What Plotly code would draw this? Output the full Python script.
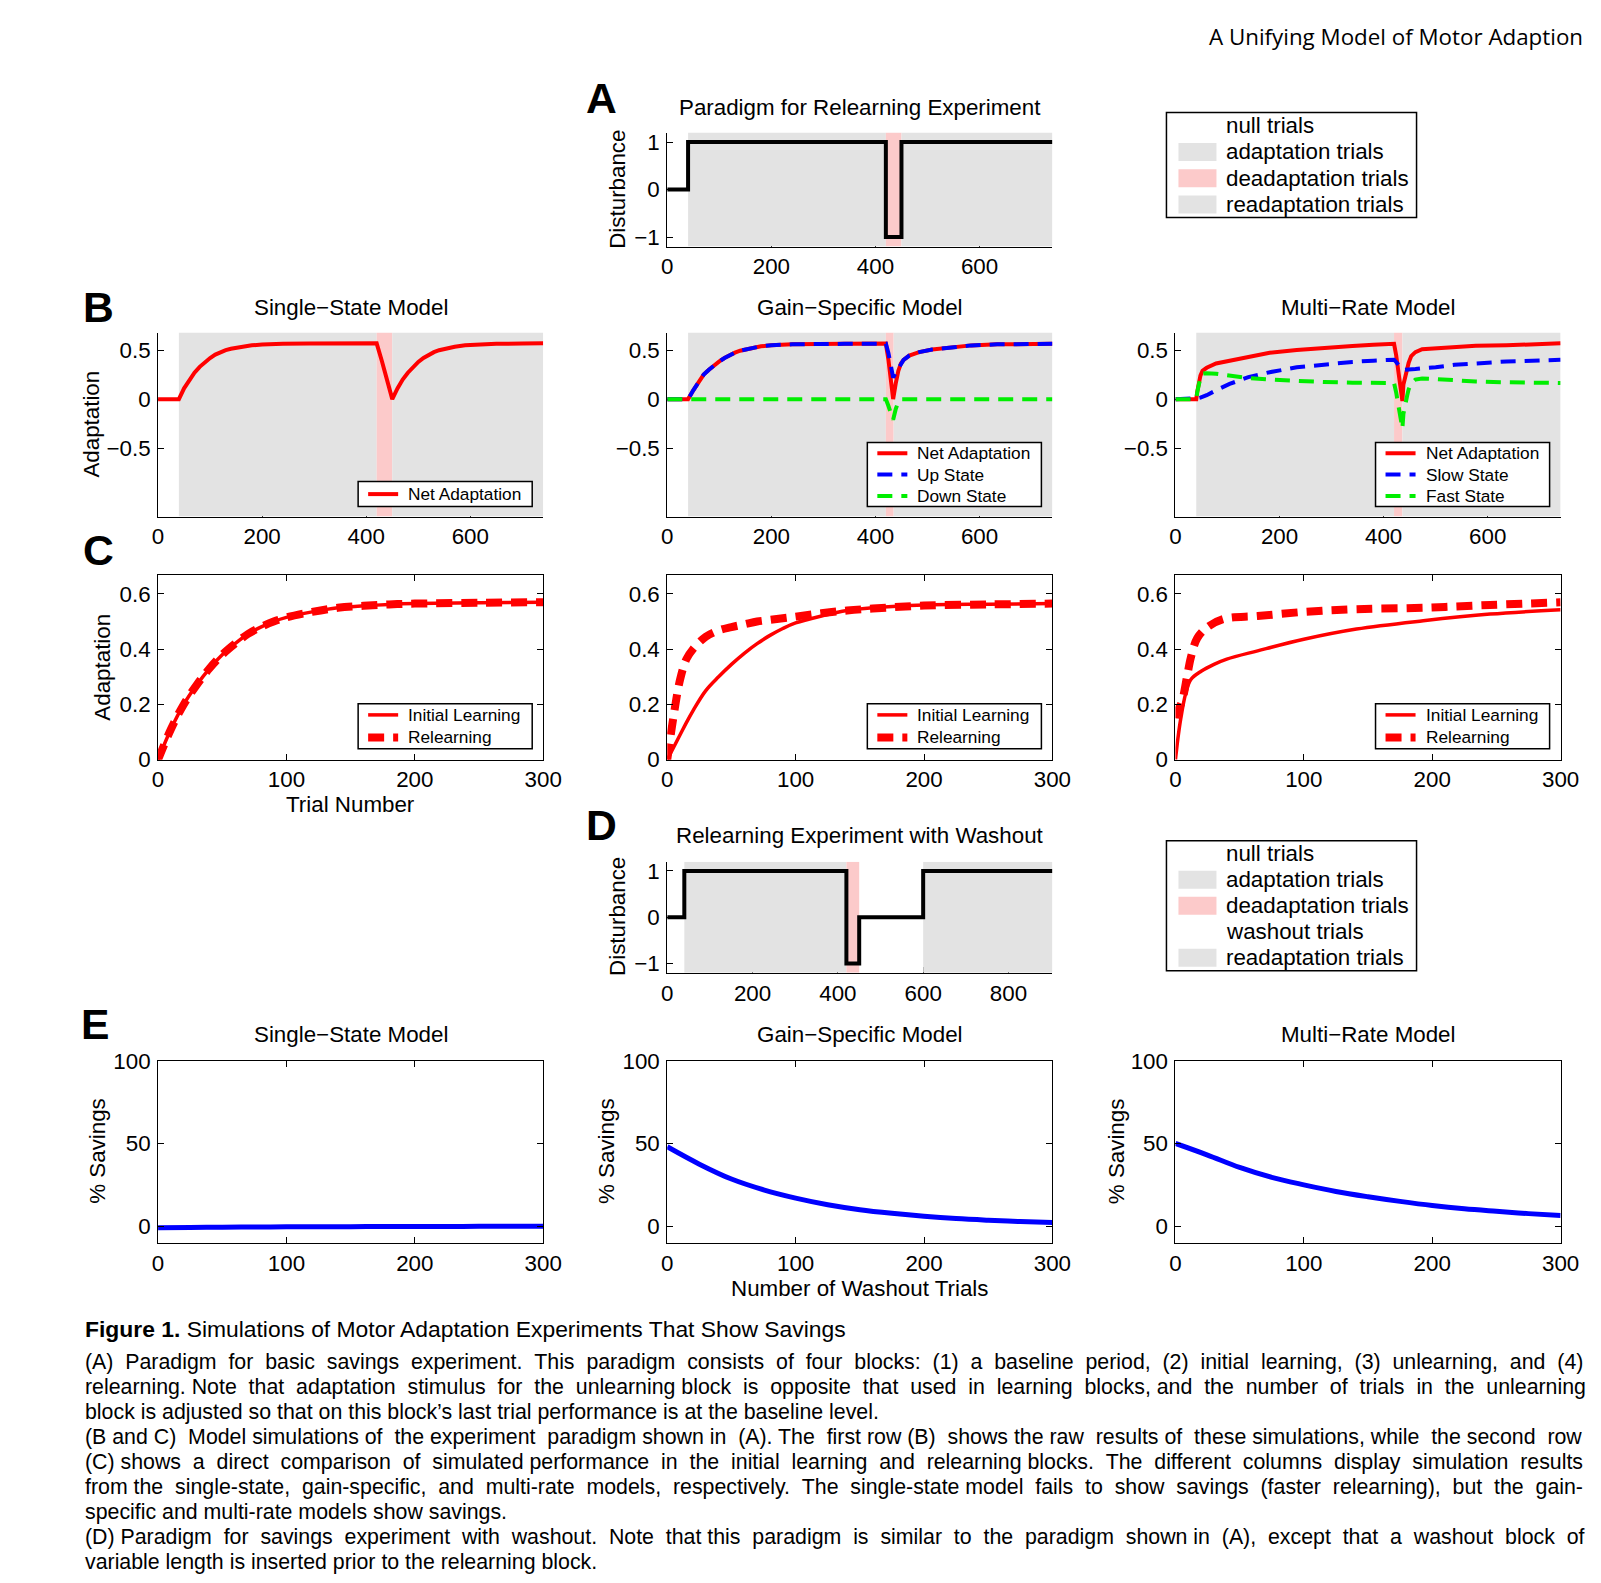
import plotly.graph_objects as go

# ---------------- values ----------------
# (A) relearning paradigm, disturbance at the start of each block
a_block_trial = [0, 40, 420, 450, 740]
a_disturbance = [0, 1, -1, 1, 1]
a_adapt = [40, 420]
a_deadapt = [420, 450]
a_readapt = [450, 740]

# (D) relearning paradigm with washout
d_block_trial = [0, 40, 420, 450, 600, 903]
d_disturbance = [0, 1, -1, 0, 1, 1]
d_adapt = [40, 420]
d_deadapt = [420, 450]
d_washout = [450, 600]
d_readapt = [600, 903]

# (B) single-state model
b1_trial = [0, 40, 50, 60, 70, 80, 90, 100, 110, 120, 130, 140, 160, 180, 200, 220, 240, 290, 340,
            420, 430, 440, 450, 460, 470, 480, 490, 500, 510, 520, 530, 540, 550, 570, 590, 610, 630,
            650, 700, 740]
b1_net = [0, 0, 0.11, 0.2, 0.27, 0.33, 0.38, 0.42, 0.455, 0.48, 0.5, 0.515, 0.535, 0.55, 0.557, 0.562,
          0.565, 0.568, 0.57, 0.57, 0.39, 0.2, 0.0, 0.11, 0.2, 0.27, 0.33, 0.38, 0.42, 0.455, 0.48, 0.5,
          0.515, 0.535, 0.55, 0.557, 0.562, 0.565, 0.568, 0.57]
b1_deadapt = [420, 450]
b1_readapt = [450, 740]

# (B) gain-specific model
b2_trial = [0, 40, 50, 60, 70, 80, 90, 100, 110, 120, 130, 140, 160, 180, 200, 240, 340,
            420, 425, 430, 434, 439, 444, 449, 454, 465, 484, 509, 534, 584, 634, 740]
b2_net = [0, 0, 0.09, 0.177, 0.25, 0.30, 0.345, 0.385, 0.42, 0.45, 0.475, 0.495, 0.52, 0.54, 0.55, 0.56,
          0.565, 0.567, 0.40, 0.2, 0.0, 0.16, 0.29, 0.365, 0.40, 0.445, 0.48, 0.506, 0.518, 0.549, 0.56, 0.565]
b2_up = [0, 0, 0.09, 0.177, 0.25, 0.30, 0.345, 0.385, 0.42, 0.45, 0.475, 0.495, 0.52, 0.54, 0.55, 0.56,
         0.565, 0.567, 0.47, 0.34, 0.22, 0.27, 0.32, 0.37, 0.40, 0.445, 0.48, 0.506, 0.518, 0.549, 0.56, 0.565]
b2_down = [0, 0, 0, 0, 0, 0, 0, 0, 0, 0, 0, 0, 0, 0, 0, 0, 0, 0,
           -0.07, -0.14, -0.21, -0.1, -0.03, 0, 0, 0, 0, 0, 0, 0, 0, 0]
b2_deadapt = [420, 435]
b2_readapt = [435, 740]

# (B) multi-rate model
b3_trial = [0, 40, 42, 44, 48, 52, 60, 78, 104, 140, 181, 233, 285, 340, 380, 420, 424, 428, 432, 436,
            438, 441, 445, 448, 453, 461, 474, 500, 536, 577, 636, 700, 740]
b3_net = [0, 0, 0.08, 0.145, 0.24, 0.29, 0.32, 0.364, 0.394, 0.436, 0.473, 0.503, 0.527, 0.543, 0.555,
          0.565, 0.45, 0.3, 0.13, -0.02, 0.15, 0.22, 0.3, 0.37, 0.44, 0.48, 0.51, 0.52, 0.535, 0.545,
          0.55, 0.56, 0.57]
b3_slow = [0, 0, 0.005, 0.01, 0.015, 0.02, 0.04, 0.09, 0.155, 0.225, 0.275, 0.325, 0.355, 0.38, 0.393,
           0.403, 0.38, 0.35, 0.32, 0.30, 0.30, 0.30, 0.30, 0.302, 0.305, 0.308, 0.315, 0.325, 0.35,
           0.365, 0.385, 0.395, 0.403]
b3_fast = [0, 0, 0.075, 0.135, 0.22, 0.26, 0.265, 0.26, 0.24, 0.215, 0.2, 0.185, 0.175, 0.168, 0.165,
           0.165, 0.07, -0.06, -0.2, -0.3, -0.15, -0.05, 0.03, 0.1, 0.16, 0.2, 0.21, 0.205, 0.19, 0.18,
           0.172, 0.168, 0.165]
b3_deadapt = [420, 436]
b3_readapt = [436, 740]

# (C) initial learning vs relearning
c1_trial = [0, 10, 20, 30, 40, 50, 60, 70, 80, 90, 100, 120, 140, 160, 180, 200, 250, 300]
c1_initial = [0, 0.11, 0.2, 0.27, 0.33, 0.38, 0.42, 0.455, 0.48, 0.5, 0.515, 0.535, 0.55, 0.557, 0.562,
              0.565, 0.568, 0.57]
c1_relearn = [0, 0.11, 0.2, 0.27, 0.33, 0.38, 0.42, 0.455, 0.48, 0.5, 0.515, 0.535, 0.55, 0.557, 0.562,
              0.565, 0.568, 0.57]

c2_trial = [0, 5, 10, 15, 20, 30, 40, 50, 60, 70, 80, 90, 100, 120, 140, 160, 200, 250, 300]
c2_initial = [0, 0.045, 0.09, 0.135, 0.177, 0.25, 0.30, 0.345, 0.385, 0.42, 0.45, 0.475, 0.495, 0.52,
              0.54, 0.55, 0.56, 0.563, 0.565]
c2_relearn = [0, 0.16, 0.29, 0.365, 0.40, 0.445, 0.468, 0.48, 0.49, 0.5, 0.506, 0.512, 0.518, 0.53,
              0.54, 0.547, 0.558, 0.562, 0.565]

c3_trial_initial = [0, 2, 4, 8, 12, 20, 30, 40, 64, 100, 141, 193, 245, 300]
c3_initial = [0, 0.08, 0.145, 0.24, 0.29, 0.32, 0.345, 0.364, 0.394, 0.436, 0.473, 0.503, 0.527, 0.543]
c3_trial_relearn = [0, 1, 5, 9, 12, 17, 25, 38, 64, 100, 141, 193, 245, 300]
c3_relearn = [0.15, 0.17, 0.21, 0.3, 0.37, 0.44, 0.48, 0.51, 0.52, 0.535, 0.545, 0.55, 0.56, 0.57]

# (E) savings vs number of washout trials
e_washout = [0, 25, 50, 75, 100, 125, 150, 175, 200, 225, 250, 275, 300]
e_single = [-1, -0.8, -0.6, -0.5, -0.4, -0.3, -0.3, -0.2, -0.2, -0.2, -0.1, -0.1, -0.1]
e_gain = [48, 37.5, 28.5, 22, 17, 13, 10, 7.8, 6, 4.6, 3.6, 2.8, 2.2]
e_multi = [50, 43, 35.5, 29.5, 25, 21, 17.8, 15, 12.5, 10.5, 9, 7.6, 6.4]

caption_lines = [
    "(A) Paradigm for basic savings experiment. This paradigm consists of four blocks: (1) a baseline period, (2) initial learning, (3) unlearning, and (4)",
    "relearning. Note that adaptation stimulus for the unlearning block is opposite that used in learning blocks, and the number of trials in the unlearning",
    "block is adjusted so that on this block’s last trial performance is at the baseline level.",
    "(B and C) Model simulations of the experiment paradigm shown in (A). The first row (B) shows the raw results of these simulations, while the second row",
    "(C) shows a direct comparison of simulated performance in the initial learning and relearning blocks. The different columns display simulation results",
    "from the single-state, gain-specific, and multi-rate models, respectively. The single-state model fails to show savings (faster relearning), but the gain-",
    "specific and multi-rate models show savings.",
    "(D) Paradigm for savings experiment with washout. Note that this paradigm is similar to the paradigm shown in (A), except that a washout block of",
    "variable length is inserted prior to the relearning block.",
]
# extra word gaps that stretch each justified caption line to the right margin
caption_extra = [22, 20, 0, 10, 17, 17, 0, 21, 0]

# ---------------- layout helpers ----------------
W, H = 1601, 1583
# the photographed page sits slightly inset and scaled; positions below are
# given in picture pixels and mapped back to figure pixels
AX, AY, S = 14, 20.5, 0.984
FONT = "Liberation Sans, Arial, sans-serif"
HEAD_FONT = "Open Sans, Noto Sans, sans-serif"
GREY = "#e3e3e3"
PINK = "#fccaca"
RED, BLUE, GREEN = "#ff0000", "#0000ff", "#00ee00"


def px(x):
    return (x - AX) / S / W


def py(y):
    return 1 - (y - AY) / S / H


def fs(size):
    return size / S


def justify(line, n):
    words = line.split(" ")
    gaps = len(words) - 1
    out = words[0]
    for i in range(gaps):
        k = (i + 1) * n // gaps - i * n // gaps
        out += " " + "\u00a0" * k + words[i + 1]
    return out


fig = go.Figure()

# picture-pixel boxes of every axes: (left, right, top, bottom, x range, y range)
panels = {
    "A": (667, 1052, 133, 247, [0, 740], [-1.2, 1.2]),
    "B1": (158, 543, 333, 517, [0, 740], [-1.2, 0.68]),
    "B2": (667, 1052, 333, 517, [0, 740], [-1.2, 0.68]),
    "B3": (1175, 1560, 333, 517, [0, 740], [-1.2, 0.68]),
    "C1": (158, 543, 575, 760, [0, 300], [0, 0.67]),
    "C2": (667, 1052, 575, 760, [0, 300], [0, 0.67]),
    "C3": (1175, 1560, 575, 760, [0, 300], [0, 0.67]),
    "D": (667, 1052, 862, 973, [0, 903], [-1.2, 1.2]),
    "E1": (158, 543, 1061, 1243, [0, 300], [-10, 100]),
    "E2": (667, 1052, 1061, 1243, [0, 300], [-10, 100]),
    "E3": (1175, 1560, 1061, 1243, [0, 300], [-10, 100]),
}
ticks = {
    "A": ([0, 200, 400, 600], [-1, 0, 1]),
    "B": ([0, 200, 400, 600], [-0.5, 0, 0.5]),
    "C": ([0, 100, 200, 300], [0, 0.2, 0.4, 0.6]),
    "D": ([0, 200, 400, 600, 800], [-1, 0, 1]),
    "E": ([0, 100, 200, 300], [0, 50, 100]),
}
refs = {}
for i, (name, (l, r, t, b, xr, yr)) in enumerate(panels.items(), start=1):
    sfx = "" if i == 1 else str(i)
    refs[name] = ("x" + sfx, "y" + sfx)
    boxed = name[0] in "CE"
    xt, yt = ticks[name[0]]
    common = dict(showgrid=False, zeroline=False, showline=True, linecolor="black", linewidth=1,
                  ticks="inside", ticklen=6, tickcolor="black", tickwidth=1,
                  mirror="allticks" if boxed else False,
                  layer="above traces" if boxed else "below traces",
                  tickfont=dict(family=FONT, size=fs(22), color="black"), fixedrange=True)
    fig.update_layout({
        "xaxis" + sfx: dict(common, domain=[px(l), px(r)], range=xr, tickvals=xt,
                            anchor="y" + sfx, ticklabelstandoff=0),
        "yaxis" + sfx: dict(common, domain=[py(b), py(t)], range=yr, tickvals=yt,
                            anchor="x" + sfx, ticklabelstandoff=2),
    })


def patch(name, span, color):
    xa, ya = refs[name]
    yr = panels[name][5]
    fig.add_trace(go.Scatter(x=[span[0], span[1], span[1], span[0]], y=[yr[0], yr[0], yr[1], yr[1]],
                             fill="toself", fillcolor=color, mode="lines", line=dict(width=0),
                             xaxis=xa, yaxis=ya, hoverinfo="skip", showlegend=False))


def curve(name, x, y, color, width, dash="solid", shape="linear"):
    xa, ya = refs[name]
    fig.add_trace(go.Scatter(x=x, y=y, mode="lines", line=dict(color=color, width=width, dash=dash,
                                                                shape=shape),
                             xaxis=xa, yaxis=ya, hoverinfo="skip", showlegend=False))


def text(x, y, s, size=22, xanchor="center", angle=0, family=FONT):
    fig.add_annotation(x=px(x), y=py(y), xref="paper", yref="paper", text=s, showarrow=False,
                       xanchor=xanchor, yanchor="middle", textangle=angle, borderpad=0,
                       font=dict(family=family, size=fs(size), color="black"))


DASH = "15px,9px"

# ---- A and D: paradigms
patch("A", a_adapt, GREY)
patch("A", a_deadapt, PINK)
patch("A", a_readapt, GREY)
curve("A", a_block_trial, a_disturbance, "black", 4, shape="hv")
patch("D", d_adapt, GREY)
patch("D", d_deadapt, PINK)
patch("D", d_readapt, GREY)
curve("D", d_block_trial, d_disturbance, "black", 4, shape="hv")

# ---- B: raw simulations
patch("B1", a_adapt, GREY)
patch("B1", b1_deadapt, PINK)
patch("B1", b1_readapt, GREY)
curve("B1", b1_trial, b1_net, RED, 4)

patch("B2", a_adapt, GREY)
patch("B2", b2_deadapt, PINK)
patch("B2", b2_readapt, GREY)
curve("B2", b2_trial, b2_net, RED, 4)
curve("B2", b2_trial, b2_up, BLUE, 4, DASH)
curve("B2", b2_trial, b2_down, GREEN, 4, DASH)

patch("B3", a_adapt, GREY)
patch("B3", b3_deadapt, PINK)
patch("B3", b3_readapt, GREY)
curve("B3", b3_trial, b3_net, RED, 4)
curve("B3", b3_trial, b3_slow, BLUE, 4, DASH)
curve("B3", b3_trial, b3_fast, GREEN, 4, DASH)

# ---- C: learning vs relearning
RDASH = "16px,9px"
curve("C1", c1_trial, c1_initial, RED, 3.5, shape="spline")
curve("C1", c1_trial, c1_relearn, RED, 8, RDASH, shape="spline")
curve("C2", c2_trial, c2_initial, RED, 3.5, shape="spline")
curve("C2", c2_trial, c2_relearn, RED, 8, RDASH, shape="spline")
curve("C3", c3_trial_initial, c3_initial, RED, 3.5, shape="spline")
curve("C3", c3_trial_relearn, c3_relearn, RED, 8, RDASH, shape="spline")

# ---- E: savings
curve("E1", e_washout, e_single, BLUE, 5, shape="spline")
curve("E2", e_washout, e_gain, BLUE, 5, shape="spline")
curve("E3", e_washout, e_multi, BLUE, 5, shape="spline")


# ---- legends drawn MATLAB style
def box(l, r, t, b):
    fig.add_shape(type="rect", xref="paper", yref="paper", x0=px(l), x1=px(r), y0=py(b), y1=py(t),
                  line=dict(color="black", width=1.5), fillcolor="white", layer="above")


def line_legend(l, t, b, items, size=17):
    box(l, l + 174, t, b)
    n = len(items)
    step = (b - t) / n
    for k, (label, color, width, dash) in enumerate(items):
        yc = t + step * (k + 0.5)
        fig.add_shape(type="line", xref="paper", yref="paper", x0=px(l + 10), x1=px(l + 40),
                      y0=py(yc), y1=py(yc), line=dict(color=color, width=width, dash=dash))
        text(l + 49, yc, label, size=size, xanchor="left")


def patch_legend(t, b, items):
    l, r = 1166, 1416
    box(l, r, t, b)
    step = (b - t) / len(items)
    for k, (label, color) in enumerate(items):
        yc = t + step * (k + 0.5)
        if color:
            fig.add_shape(type="rect", xref="paper", yref="paper", x0=px(l + 12), x1=px(l + 50),
                          y0=py(yc + 9), y1=py(yc - 9), line=dict(width=0), fillcolor=color)
        text(l + 59, yc, label, xanchor="left")


col_left = [358, 867, 1375]
net = ("Net Adaptation", RED, 4, "solid")
line_legend(col_left[0], 482, 507, [net])
line_legend(col_left[1], 443, 507, [net, ("Up State", BLUE, 4, DASH), ("Down State", GREEN, 4, DASH)])
line_legend(col_left[2], 443, 507, [net, ("Slow State", BLUE, 4, DASH), ("Fast State", GREEN, 4, DASH)])
for c in col_left:
    line_legend(c, 704, 749, [("Initial Learning", RED, 3.5, "solid"), ("Relearning", RED, 8, RDASH)])

patch_legend(113, 218, [("null trials", None), ("adaptation trials", GREY),
                        ("deadaptation trials", PINK), ("readaptation trials", GREY)])
patch_legend(841, 971, [("null trials", None), ("adaptation trials", GREY),
                        ("deadaptation trials", PINK), ("washout trials", None),
                        ("readaptation trials", GREY)])

# ---- titles, axis labels, panel letters
cx = [350.5, 859.5, 1367.5]
text(860, 108, "Paradigm for Relearning Experiment")
text(860, 836, "Relearning Experiment with Washout")
for c, s in zip(cx, ["Single−State Model", "Gain−Specific Model", "Multi−Rate Model"]):
    text(c, 308, s)
    text(c, 1035, s)
text(617, 190, "Disturbance", angle=-90)
text(617, 917, "Disturbance", angle=-90)
text(92, 425, "Adaptation", angle=-90)
text(103, 668, "Adaptation", angle=-90)
for c in [98, 607, 1116]:
    text(c, 1151, "% Savings", angle=-90)
text(350.5, 805, "Trial Number")
text(859.5, 1289, "Number of Washout Trials")
for letter, x, y in [("A", 601, 98), ("B", 98, 307), ("C", 98, 550), ("D", 601, 825), ("E", 95, 1024)]:
    text(x, y, "<b>%s</b>" % letter, size=42)

# ---- running header (as high as the page allows) and caption
fig.add_annotation(x=px(1583), y=1, xref="paper", yref="paper", xanchor="right", yanchor="top",
                   text="A Unifying Model of Motor Adaption", showarrow=False, borderpad=0,
                   font=dict(family=HEAD_FONT, size=fs(22), color="black"))
text(84, 1329, "<b>Figure 1.</b> Simulations of Motor Adaptation Experiments That Show Savings",
     size=22.5, xanchor="left")
for k, (line, extra) in enumerate(zip(caption_lines, caption_extra)):
    text(84, 1362 + 25 * k, justify(line, extra), size=21, xanchor="left")

fig.update_layout(width=W, height=H, margin=dict(l=0, r=0, t=0, b=0),
                  paper_bgcolor="white", plot_bgcolor="white", showlegend=False,
                  hovermode=False)

fig.write_html("out.html")
